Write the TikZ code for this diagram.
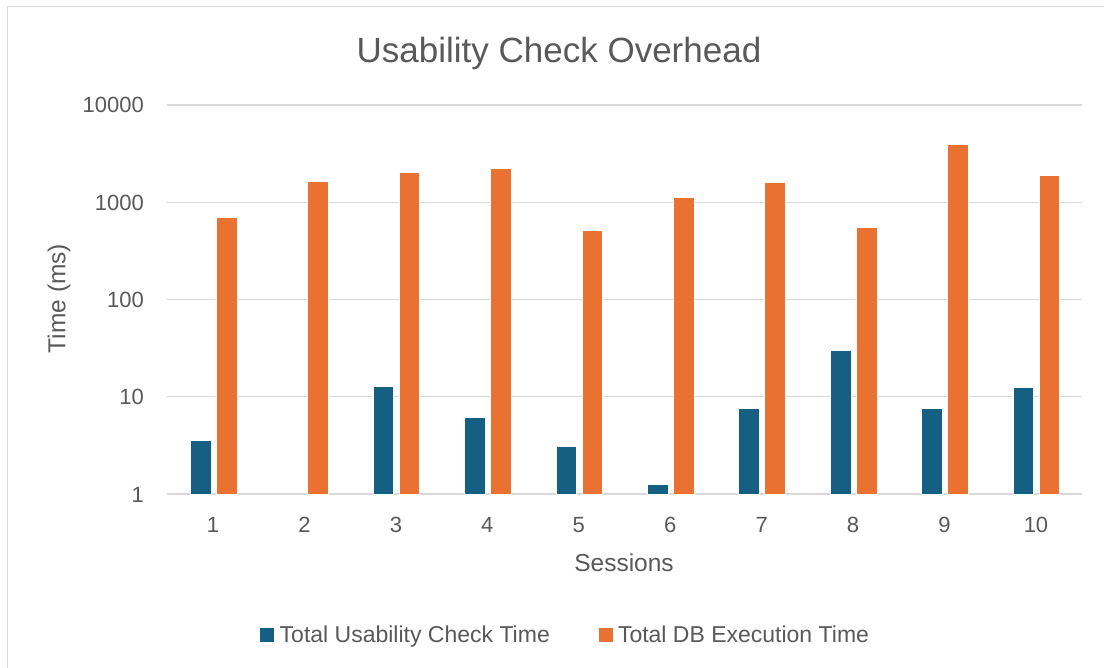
\documentclass[tikz,border=0pt]{standalone}
\usepackage{fontspec}
\setmainfont{Liberation Sans}
\definecolor{txt}{HTML}{595959}
\definecolor{rule}{HTML}{D9D9D9}
\definecolor{ucheck}{HTML}{156082}
\definecolor{dbexec}{HTML}{E97132}
\begin{document}
\begin{tikzpicture}[x=1pt,y=-1pt,
  gridline/.style={draw=rule, line width=1.3pt},
  ticklbl/.style={text=txt, inner sep=0pt, font=\fontsize{22}{26}\selectfont},
  axtitle/.style={text=txt, inner sep=0pt, font=\fontsize{24.5}{29}\selectfont},
  legtext/.style={text=txt, inner sep=0pt, font=\fontsize{23}{27}\selectfont},
  barU/.style={fill=ucheck, draw=white, line width=0.4pt},
  barD/.style={fill=dbexec, draw=white, line width=0.4pt}]
\useasboundingbox (0,0) rectangle (1104,668);
\fill[white] (0,0) rectangle (1104,668);
% chart frame
\draw[rule, line width=1.2pt] (7.3,668) -- (7.3,6.3) -- (1104,6.3);
% title
\node[text=txt, inner sep=0pt, font=\fontsize{35}{42}\selectfont, anchor=base] (title) at (559,62.3) {Usability Check Overhead};
% log-scale gridlines and tick labels
\foreach \k/\lab in {0/1,1/10,2/100,3/1000,4/10000} {
  \pgfmathsetmacro\gy{494-97.25*\k}
  \draw[gridline] (167.3,\gy) -- (1081.7,\gy);
  \node[ticklbl, anchor=base east] (yt\k) at (144,{\gy+8}) {\lab};
}
% Total DB Execution Time bars
\foreach \i/\d in {1/694,2/1653,3/2047,4/2234,5/510,6/1132,7/1604,8/556,9/3972,10/1893} {
  \pgfmathsetmacro\cx{167.3+91.44*(\i-0.5)}
  \pgfmathsetmacro\dy{494-97.25*ln(\d)/ln(10)}
  \filldraw[barD] ({\cx+3},494) rectangle ({\cx+23.7},\dy);
  \node[ticklbl, anchor=base] (xt\i) at (\cx,532.3) {\i};
}
% Total Usability Check Time bars
\foreach \i/\u in {1/3.57,3/12.7,4/6.15,5/3.09,6/1.26,7/7.6,8/30.3,9/7.6,10/12.6} {
  \pgfmathsetmacro\cx{167.3+91.44*(\i-0.5)}
  \pgfmathsetmacro\uy{494-97.25*ln(\u)/ln(10)}
  \filldraw[barU] ({\cx-23},494) rectangle ({\cx-2.3},\uy);
}
% axis titles
\node[axtitle, anchor=base] (xlab) at (624,571.7) {Sessions};
\node[axtitle, rotate=90, anchor=base] (ylab) at (65.3,298.5) {Time (ms)};
% legend
\fill[ucheck] (260,628.3) rectangle (274,642.3);
\node[legtext, anchor=base west] (legU) at (279.5,642.3) {Total Usability Check Time};
\fill[dbexec] (599,628.3) rectangle (613.3,642.3);
\node[legtext, anchor=base west] (legD) at (617.8,642.3) {Total DB Execution Time};
\end{tikzpicture}
\end{document}
